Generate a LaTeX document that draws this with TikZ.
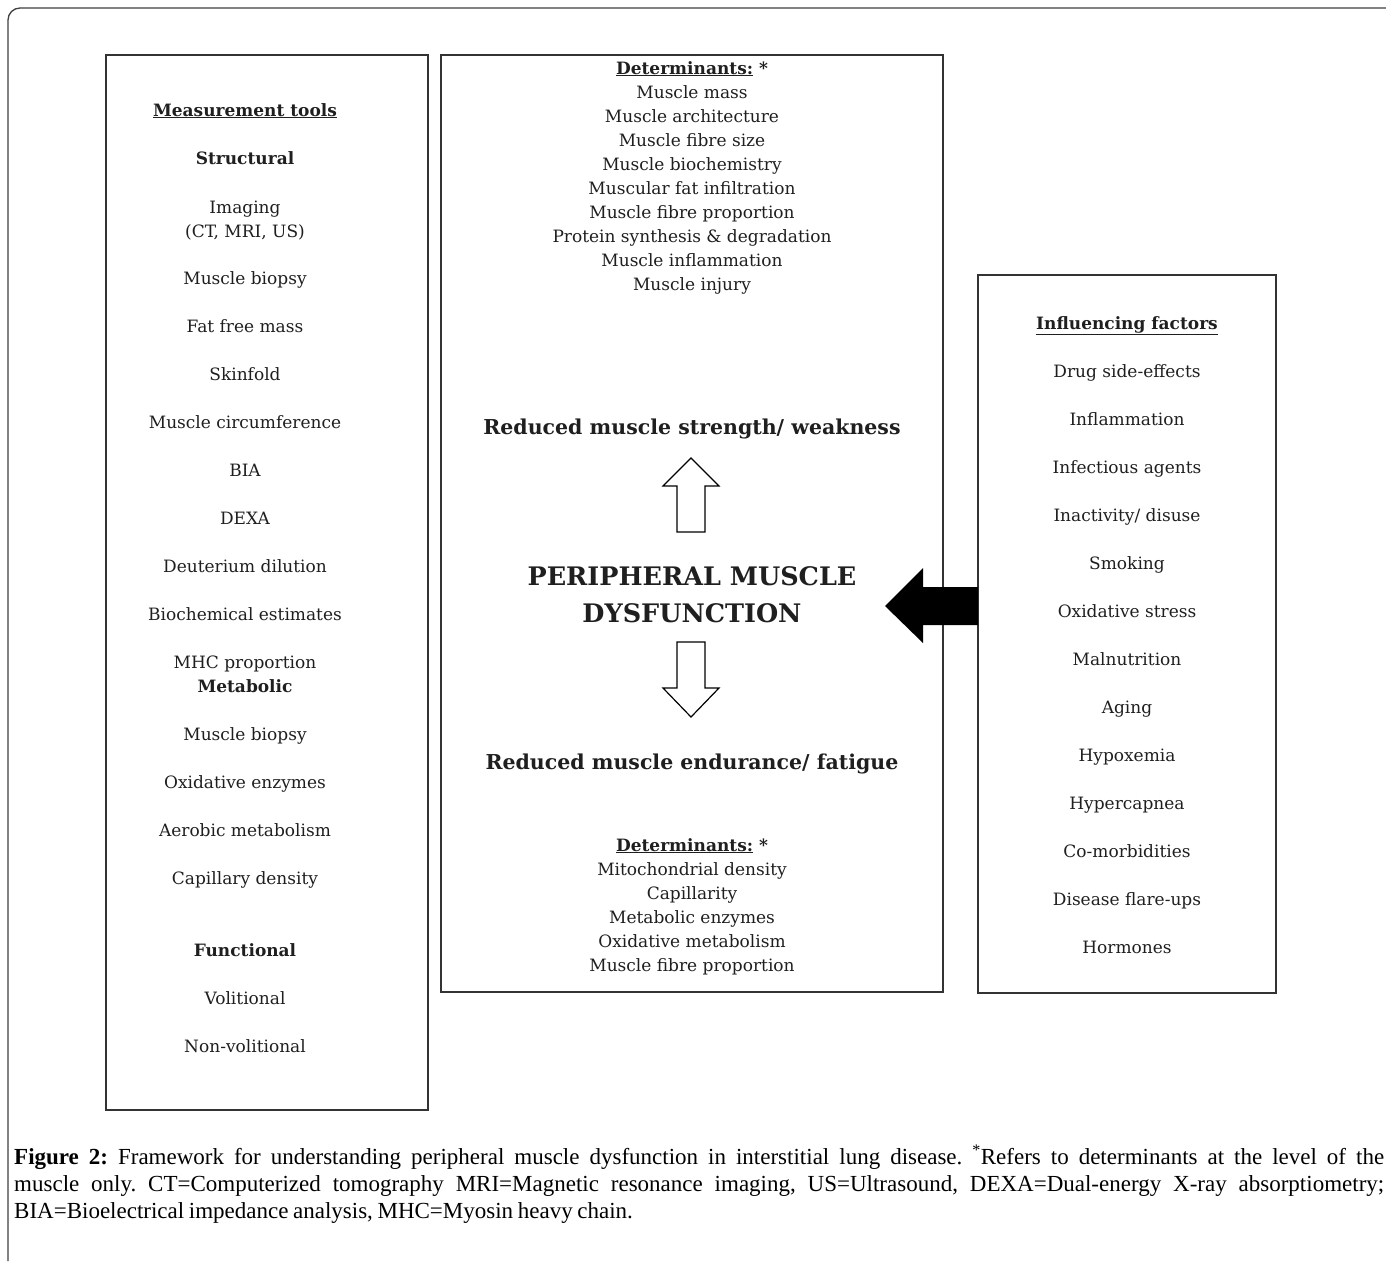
\documentclass[tikz,border=0pt]{standalone}
\usepackage{fontspec}
\setmainfont{DejaVu Serif}
\newfontfamily\capfont{Liberation Serif}
\begin{document}
\begin{tikzpicture}[x=1pt,y=-1pt,
  box/.style={draw=black!80, line width=1.6pt},
  itm/.style={anchor=base, inner sep=0pt, text=black!88, font=\fontsize{17}{19}\selectfont},
  hd/.style={anchor=base, inner sep=0pt, text=black!88, font=\fontsize{17}{19}\selectfont\bfseries},
  big/.style={anchor=base, inner sep=0pt, text=black!88, font=\fontsize{20.5}{24}\selectfont\bfseries},
  huge/.style={anchor=base, inner sep=0pt, text=black!88, font=\fontsize{25.5}{30}\selectfont\bfseries},
  hollow/.style={draw=black, line width=1.2pt, fill=white, line join=miter},
  solid/.style={fill=black}
]
\useasboundingbox (0,0) rectangle (1386,1261);
\fill[white] (0,0) rectangle (1386,1261);
% outer frame
\draw[line width=1.3pt, black!75, rounded corners=12pt] (8,1261) -- (8,8) -- (1386,8);

% boxes
\draw[box] (106,55) rectangle (428,1110);
\draw[box] (441,55) rectangle (943,992);
\draw[box] (978,275) rectangle (1276,993);

% left box
\node[hd] (Lh) at (245,116) {\underline{Measurement tools}};
\node[hd] (Ls) at (245,164) {Structural};
\foreach [count=\k] \t/\y in {Imaging/207,{(CT, MRI, US)}/231,Muscle biopsy/278,Fat free mass/326,Skinfold/374,Muscle circumference/422,BIA/470,DEXA/518,Deuterium dilution/566,Biochemical estimates/614,MHC proportion/662}
  \node[itm] (La\k) at (245,\y+6) {\t};
\node[hd] (Lm) at (245,692) {Metabolic};
\foreach [count=\k] \t/\y in {Muscle biopsy/734,Oxidative enzymes/782,Aerobic metabolism/830,Capillary density/878}
  \node[itm] (Lb\k) at (245,\y+6) {\t};
\node[hd] (Lf) at (245,956) {Functional};
\foreach [count=\k] \t/\y in {Volitional/998,Non-volitional/1046}
  \node[itm] (Lc\k) at (245,\y+6) {\t};

% center box
\node[hd] (Ch1) at (692,74) {\underline{Determinants:} *};
\foreach [count=\k] \t/\y in {Muscle mass/92,Muscle architecture/116,Muscle fibre size/140,Muscle biochemistry/164,Muscular fat infiltration/188,Muscle fibre proportion/212,Protein synthesis \& degradation/236,Muscle inflammation/260,Muscle injury/284}
  \node[itm] (Ca\k) at (692,\y+6) {\t};
\node[big] (Cs) at (692,434) {Reduced muscle strength/ weakness};
\node[huge] (Cp1) at (692,585) {PERIPHERAL MUSCLE};
\node[huge] (Cp2) at (692,622) {DYSFUNCTION};
\node[big] (Ce) at (692,769) {Reduced muscle endurance/ fatigue};
\node[hd] (Ch2) at (692,851) {\underline{Determinants:} *};
\foreach [count=\k] \t/\y in {Mitochondrial density/869,Capillarity/893,Metabolic enzymes/917,Oxidative metabolism/941,Muscle fibre proportion/965}
  \node[itm] (Cb\k) at (692,\y+6) {\t};

% hollow arrows
\draw[hollow] (691,458) -- (719,486) -- (705,486) -- (705,532) -- (677,532) -- (677,486) -- (663,486) -- cycle;
\draw[hollow] (677,642) -- (705,642) -- (705,688) -- (719,688) -- (691,717) -- (663,688) -- (677,688) -- cycle;
% solid arrow
\fill[solid] (885,606) -- (923,568) -- (923,587) -- (978,587) -- (978,625) -- (923,625) -- (923,643) -- cycle;

% right box
\node[hd] (Rh) at (1127,329) {\underline{Influencing factors}};
\foreach [count=\k] \t/\y in {Drug side-effects/371,Inflammation/419,Infectious agents/467,{Inactivity/ disuse}/515,Smoking/563,Oxidative stress/611,Malnutrition/659,Aging/707,Hypoxemia/755,Hypercapnea/803,Co-morbidities/851,Disease flare-ups/899,Hormones/947}
  \node[itm] (Ra\k) at (1127,\y+6) {\t};

% caption
\node[anchor=north west, inner sep=0pt, text width=1370pt, align=justify,
      font=\capfont\fontsize{23}{27}\selectfont] (cap) at (14,1145)
  {\frenchspacing\spaceskip=0.2em plus 0.4em minus 0.08em\emergencystretch=3em\textbf{Figure 2:} Framework for understanding peripheral muscle dysfunction in interstitial lung disease. \textsuperscript{*}Refers to determinants at the level of the\linebreak
   muscle only. CT=Computerized tomography MRI=Magnetic resonance imaging, US=Ultrasound, DEXA=Dual-energy X-ray absorptiometry;\linebreak
   BIA=Bioelectrical impedance analysis, MHC=Myosin heavy chain.};
\end{tikzpicture}
\end{document}
